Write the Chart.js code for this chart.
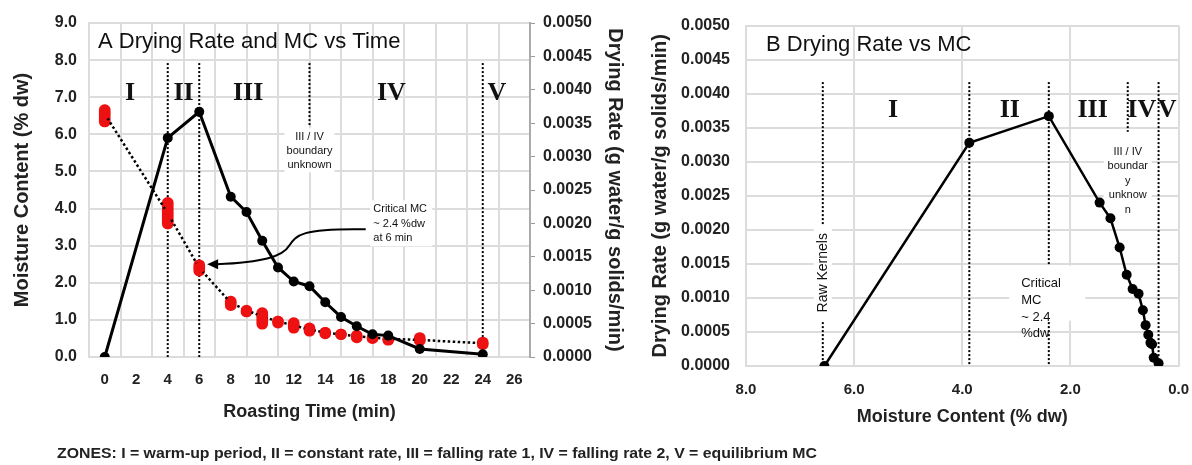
<!DOCTYPE html>
<html>
<head>
<meta charset="utf-8">
<script src="https://cdn.jsdelivr.net/npm/chart.js@4/dist/chart.umd.min.js"></script>
<style>
  html, body { margin: 0; padding: 0; background: #fff; }
  #wrap { position: relative; width: 1192px; height: 465px; overflow: hidden; }
  #boxA { position: absolute; left: 0; top: 0; width: 630px; height: 465px; }
  #boxB { position: absolute; left: 630px; top: 0; width: 562px; height: 465px; }
  #note { position: absolute; left: 57px; top: 445px; font: bold 14px "Liberation Sans", Arial, sans-serif; color: #222; white-space: nowrap; transform: scaleX(1.13); transform-origin: left center; }
</style>
</head>
<body>
<div id="wrap">
  <div id="boxA"><canvas id="chartA"></canvas></div>
  <div id="boxB"><canvas id="chartB"></canvas></div>
  <div id="note">ZONES: I = warm-up period, II = constant rate, III = falling rate 1, IV = falling rate 2, V = equilibrium MC</div>
</div>
<script>
// roasting data
const roastTime = [0, 4, 6, 8, 9, 10, 11, 12, 13, 14, 15, 16, 17, 18, 20, 24];
const moisture = [6.55, 3.87, 2.40, 1.46, 1.26, 1.09, 0.96, 0.85, 0.74, 0.66, 0.61, 0.56, 0.52, 0.49, 0.46, 0.37];
const moistureLow = [6.2, 3.45, 2.18, 1.25, 1.08, 0.75, 0.78, 0.64, 0.56, 0.49, 0.47, 0.38, 0.36, 0.32, 0.3, 0.2];
const moistureHigh = [6.8, 4.3, 2.62, 1.64, 1.38, 1.33, 1.1, 1.06, 0.92, 0.8, 0.75, 0.72, 0.66, 0.6, 0.66, 0.54];
const dryingRate = [0, 0.00328, 0.00367, 0.0024, 0.00217, 0.00174, 0.00134, 0.00113, 0.00106, 0.00082, 0.0006, 0.00046, 0.00034, 0.00032, 0.00012, 0.00004];

const zoneNames = ['I', 'II', 'III', 'IV', 'V'];
const zoneEdgesA = [4, 6, 24];          // min
const zoneEdgeA34 = 13;                  // III / IV, unsure
const zoneLabelA = [1.6, 5.0, 9.1, 18.2, 24.9];
const zoneEdgesB = [6.58, 3.87, 2.40, 0.37]; // % dw
const zoneEdgeB34 = 0.94;
const zoneLabelB = [5.28, 3.12, 1.59, 0.68, 0.21];

const FONT = '"Liberation Sans", Arial, sans-serif';
const GRID = '#dcdcdc';
const INK = '#222';

Chart.defaults.font.family = FONT;
Chart.defaults.color = INK;

function dotted(ctx, x, y0, y1) {
  ctx.save();
  ctx.strokeStyle = '#000';
  ctx.lineWidth = 2;
  ctx.setLineDash([2, 2]);
  ctx.beginPath();
  ctx.moveTo(x, y0);
  ctx.lineTo(x, y1);
  ctx.stroke();
  ctx.restore();
}

function textBlock(ctx, lines, x, y, lh, font, align) {
  ctx.save();
  ctx.font = font;
  ctx.fillStyle = '#111';
  ctx.textAlign = align || 'center';
  ctx.textBaseline = 'middle';
  lines.forEach((s, i) => ctx.fillText(s, x, y + i * lh));
  ctx.restore();
}

function whiteBox(ctx, x, y, w, h) {
  ctx.save();
  ctx.fillStyle = '#fff';
  ctx.fillRect(x, y, w, h);
  ctx.restore();
}

const extrasA = {
  id: 'extrasA',
  beforeDatasetsDraw(chart) {
    const ctx = chart.ctx, a = chart.chartArea;
    const xs = chart.scales.x, ys = chart.scales.y;
    const px = v => xs.getPixelForValue(v), py = v => ys.getPixelForValue(v);

    ctx.save();
    ctx.font = '22px ' + FONT;
    ctx.fillStyle = '#111';
    ctx.textBaseline = 'middle';
    ctx.fillText('A Drying Rate and MC vs Time', a.left + 9, a.top + 19);
    ctx.restore();

    zoneEdgesA.forEach(t => dotted(ctx, px(t), py(7.92), py(0)));
    dotted(ctx, px(zoneEdgeA34), py(7.92), py(6.25));

    zoneNames.forEach((n, i) => textBlock(ctx, [n], px(zoneLabelA[i]), py(7.11), 0, 'bold 26px "Liberation Serif", serif'));

    // III / IV note
    let tx = px(zoneEdgeA34), ty = py(5.92);
    whiteBox(ctx, tx - 25, ty - 9, 50, 44);
    textBlock(ctx, ['III / IV', 'boundary', 'unknown'], tx, ty, 14, '11px ' + FONT);

    // critical MC note + arrow
    tx = px(17.05); ty = py(3.98);
    whiteBox(ctx, tx - 3, ty - 9, 62, 46);
    textBlock(ctx, ['Critical MC', '~ 2.4 %dw', 'at 6 min'], tx, ty, 14.5, '11px ' + FONT, 'left');

    ctx.save();
    ctx.strokeStyle = '#000';
    ctx.lineWidth = 2;
    ctx.beginPath();
    ctx.moveTo(px(16.57), py(3.44));
    ctx.bezierCurveTo(px(12.44), py(3.47), px(12.15), py(3.28), px(11.73), py(3.01));
    ctx.bezierCurveTo(px(11.32), py(2.71), px(10.08), py(2.55), px(7.1), py(2.5));
    ctx.stroke();
    const hx = px(6.5), hy = py(2.5);
    ctx.fillStyle = '#000';
    ctx.beginPath();
    ctx.moveTo(hx, hy);
    ctx.lineTo(hx + 11, hy - 5);
    ctx.lineTo(hx + 11, hy + 5);
    ctx.closePath();
    ctx.fill();
    ctx.restore();
  }
};

const extrasB = {
  id: 'extrasB',
  beforeDatasetsDraw(chart) {
    const ctx = chart.ctx, a = chart.chartArea;
    const xs = chart.scales.x, ys = chart.scales.y;
    const px = v => xs.getPixelForValue(v), py = v => ys.getPixelForValue(v);

    ctx.save();
    ctx.font = '22px ' + FONT;
    ctx.fillStyle = '#111';
    ctx.textBaseline = 'middle';
    ctx.fillText('B Drying Rate vs MC', a.left + 20, a.top + 19);
    ctx.restore();

    zoneEdgesB.forEach(m => dotted(ctx, px(m), py(0.00417), py(0)));
    dotted(ctx, px(zoneEdgeB34), py(0.00417), py(0.00344));

    zoneNames.forEach((n, i) => textBlock(ctx, [n], px(zoneLabelB[i]), py(0.00376), 0, 'bold 26px "Liberation Serif", serif'));

    // raw kernels
    let tx = px(zoneEdgesB[0]), ty = py(0.00137);
    whiteBox(ctx, tx - 9, ty - 48, 18, 96);
    ctx.save();
    ctx.translate(tx, ty);
    ctx.rotate(-Math.PI / 2);
    textBlock(ctx, ['Raw Kernels'], 0, 0, 0, '14px ' + FONT);
    ctx.restore();

    // critical MC
    tx = px(2.91); ty = py(0.00121);
    whiteBox(ctx, tx - 12, ty - 18, 76, 55);
    textBlock(ctx, ['Critical', 'MC', '~ 2.4', '%dw'], tx, ty, 16.7, '13px ' + FONT, 'left');

    // III / IV note
    tx = px(zoneEdgeB34); ty = py(0.00315);
    whiteBox(ctx, tx - 24, ty - 10, 48, 76);
    textBlock(ctx, ['III / IV', 'boundar', 'y', 'unknow', 'n'], tx, ty, 14.5, '11px ' + FONT);
  }
};

const tickFont = { family: FONT, size: 15, weight: 'bold' };
const yTickFont = { family: FONT, size: 16, weight: 'bold' };

new Chart(document.getElementById('chartA'), {
  type: 'line',
  data: {
    datasets: [
      {
        label: 'Drying Rate',
        yAxisID: 'y1',
        data: roastTime.map((t, i) => ({ x: t, y: dryingRate[i] })),
        borderColor: '#000',
        borderWidth: 3,
        pointRadius: 5,
        pointBackgroundColor: '#000',
        pointBorderWidth: 0
      },
      {
        label: 'MC',
        yAxisID: 'y',
        data: roastTime.map((t, i) => ({ x: t, y: moisture[i] })),
        borderColor: '#000',
        borderWidth: 2.5,
        borderDash: [2.5, 2.5],
        pointRadius: 5.5,
        pointBackgroundColor: '#ee1111',
        pointBorderWidth: 0
      },
      {
        type: 'bar',
        label: 'MC range',
        yAxisID: 'y',
        data: roastTime.map((t, i) => ({ x: t, y: [moistureLow[i], moistureHigh[i]] })),
        backgroundColor: '#ee1111',
        barThickness: 11,
        borderRadius: 6,
        borderSkipped: false
      }
    ]
  },
  options: {
    responsive: true,
    maintainAspectRatio: false,
    animation: false,
    layout: { padding: { top: 23, right: 0, bottom: 0, left: 0 } },
    plugins: { legend: { display: false }, tooltip: { enabled: false } },
    scales: {
      x: {
        type: 'linear', min: 0, max: 26,
        ticks: { stepSize: 2, font: tickFont, padding: 14, color: INK },
        grid: { color: GRID, lineWidth: 2, drawTicks: false },
        border: { color: GRID, width: 2 },
        title: { display: true, text: 'Roasting Time (min)', color: INK, font: { family: FONT, size: 18, weight: 'bold' }, padding: { top: 0, bottom: 42 } },
        afterFit: s => { s.height = 108; }
      },
      y: {
        position: 'left', min: 0, max: 9,
        ticks: { stepSize: 1, font: yTickFont, padding: 12, color: INK, callback: v => v.toFixed(1) },
        grid: { color: GRID, lineWidth: 2, drawTicks: false },
        border: { color: GRID, width: 2 },
        title: { display: true, text: 'Moisture Content (% dw)', color: INK, font: { family: FONT, size: 20, weight: 'bold' }, padding: { top: 10, bottom: 0 } },
        afterFit: s => { s.width = 89; }
      },
      y1: {
        position: 'right', min: 0, max: 0.005,
        ticks: { stepSize: 0.0005, font: yTickFont, padding: 8, color: INK, callback: v => v.toFixed(4) },
        grid: { drawOnChartArea: false, color: '#999', tickLength: 5 },
        border: { color: '#aaa', width: 2 },
        title: { display: true, text: 'Drying Rate (g water/g solids/min)', color: INK, font: { family: FONT, size: 20, weight: 'bold' }, padding: { top: 3, bottom: 0 } },
        afterFit: s => { s.width = 100; }
      }
    }
  },
  plugins: [extrasA]
});

new Chart(document.getElementById('chartB'), {
  type: 'line',
  data: {
    datasets: [{
      label: 'Drying Rate vs MC',
      data: moisture.map((m, i) => ({ x: m, y: dryingRate[i] })),
      borderColor: '#000',
      borderWidth: 2.5,
      pointRadius: 5,
      pointBackgroundColor: '#000',
      pointBorderWidth: 0
    }]
  },
  options: {
    responsive: true,
    maintainAspectRatio: false,
    animation: false,
    layout: { padding: { top: 23, right: 0, bottom: 0, left: 0 } },
    plugins: { legend: { display: false }, tooltip: { enabled: false } },
    scales: {
      x: {
        type: 'linear', min: 0, max: 8, reverse: true,
        ticks: { stepSize: 2, font: tickFont, padding: 3, color: INK, callback: v => v.toFixed(1) },
        grid: { color: GRID, lineWidth: 2, drawTicks: true, tickLength: 12, tickColor: 'rgba(0,0,0,0)' },
        border: { color: GRID, width: 2 },
        title: { display: true, text: 'Moisture Content (% dw)', color: INK, font: { family: FONT, size: 18, weight: 'bold' }, padding: { top: 0, bottom: 37 } },
        afterFit: s => { s.height = 99; }
      },
      y: {
        position: 'left', min: 0, max: 0.005,
        ticks: { stepSize: 0.0005, font: yTickFont, padding: 16, color: INK, callback: v => v.toFixed(4) },
        grid: { color: GRID, lineWidth: 2, drawTicks: false },
        border: { color: GRID, width: 2 },
        title: { display: true, text: 'Drying Rate (g water/g solids/min)', color: INK, font: { family: FONT, size: 20, weight: 'bold' }, padding: { top: 18, bottom: 0 } },
        afterFit: s => { s.width = 116; }
      }
    }
  },
  plugins: [extrasB]
});
</script>
</body>
</html>
